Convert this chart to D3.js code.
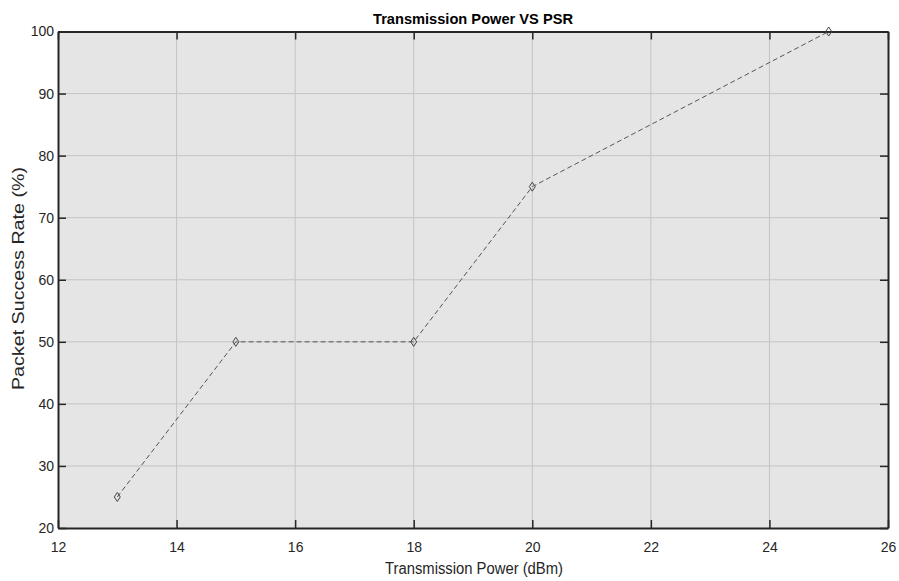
<!DOCTYPE html>
<html lang="en">
<head>
    <meta charset="UTF-8">
    <title>Transmission Power VS PSR</title>
    <script src="https://d3js.org/d3.v7.min.js"></script>
    <style>
        body { margin: 0; background: white; }
        text { font-family: "Liberation Sans", Arial, sans-serif; fill: #262626; }
        .grid line { stroke: #c4c4c4; stroke-width: 1; }
        .axis path, .axis line { stroke: #262626; }
    </style>
</head>
<body>
<script>
    // data
    var power = [13, 15, 18, 20, 25];
    var psr = [25, 50, 50, 75, 100];
    var xTicks = [12, 14, 16, 18, 20, 22, 24, 26];
    var yTicks = [20, 30, 40, 50, 60, 70, 80, 90, 100];

    var width = 899, height = 581;
    var margin = {top: 31.5, right: 11, bottom: 53, left: 58};
    var w = width - margin.left - margin.right;
    var h = height - margin.top - margin.bottom;

    var svg = d3.select("body").append("svg")
        .attr("width", width)
        .attr("height", height);

    var g = svg.append("g")
        .attr("transform", "translate(" + margin.left + "," + margin.top + ")");

    var x = d3.scaleLinear().domain([12, 26]).range([0, w]);
    var y = d3.scaleLinear().domain([20, 100]).range([h, 0]);

    g.append("rect")
        .attr("width", w).attr("height", h)
        .attr("fill", "#e5e5e5");

    // grid
    g.append("g").attr("class", "grid")
        .selectAll("line").data(xTicks.slice(1, -1)).enter().append("line")
        .attr("x1", d => x(d)).attr("x2", d => x(d))
        .attr("y1", 0).attr("y2", h);
    g.append("g").attr("class", "grid")
        .selectAll("line").data(yTicks.slice(1, -1)).enter().append("line")
        .attr("y1", d => y(d)).attr("y2", d => y(d))
        .attr("x1", 0).attr("x2", w);

    // axes with inward ticks
    var tk = 8;
    g.append("g").attr("class", "axis")
        .attr("transform", "translate(0," + h + ")")
        .call(d3.axisBottom(x).tickValues(xTicks).tickSizeInner(-tk).tickSizeOuter(0).tickPadding(14));
    g.append("g").attr("class", "axis")
        .call(d3.axisLeft(y).tickValues(yTicks).tickSizeInner(-tk).tickSizeOuter(0).tickPadding(4));
    g.append("g").attr("class", "axis")
        .call(d3.axisTop(x).tickValues(xTicks).tickSizeInner(-tk).tickSizeOuter(0).tickFormat(""));
    g.append("g").attr("class", "axis")
        .attr("transform", "translate(" + w + ",0)")
        .call(d3.axisRight(y).tickValues(yTicks).tickSizeInner(-tk).tickSizeOuter(0).tickFormat(""));

    g.selectAll(".axis path").attr("stroke-width", 2);
    g.selectAll(".axis text").attr("font-size", 14).attr("fill", "#262626")
        .attr("font-family", "Liberation Sans, Arial, sans-serif");
    g.selectAll(".axis .tick line").attr("stroke-width", 1.5);

    // line
    var line = d3.line().x((d, i) => x(power[i])).y(d => y(d));
    g.append("path")
        .datum(psr)
        .attr("d", line)
        .attr("fill", "none")
        .attr("stroke", "#555")
        .attr("stroke-width", 1)
        .attr("stroke-dasharray", "5,3");

    // diamond markers
    g.selectAll(".pt").data(psr).enter().append("path")
        .attr("class", "pt")
        .attr("transform", (d, i) => "translate(" + x(power[i]) + "," + y(d) + ")")
        .attr("d", "M0,-4.5L3,0L0,4.5L-3,0Z")
        .attr("fill", "none")
        .attr("stroke", "#444")
        .attr("stroke-width", 1);

    // labels
    svg.append("text")
        .attr("x", 473).attr("y", 24)
        .attr("text-anchor", "middle")
        .attr("font-size", 15).attr("font-weight", "bold")
        .style("fill", "#000")
        .attr("textLength", 200)
        .attr("lengthAdjust", "spacingAndGlyphs")
        .text("Transmission Power VS PSR");
    svg.append("text")
        .attr("x", 474).attr("y", 574)
        .attr("text-anchor", "middle")
        .attr("font-size", 16)
        .attr("textLength", 178)
        .attr("lengthAdjust", "spacingAndGlyphs")
        .text("Transmission Power (dBm)");
    svg.append("text")
        .attr("transform", "translate(24,278.5) rotate(-90)")
        .attr("text-anchor", "middle")
        .attr("font-size", 16)
        .attr("textLength", 223)
        .attr("lengthAdjust", "spacingAndGlyphs")
        .text("Packet Success Rate (%)");
</script>
</body>
</html>
